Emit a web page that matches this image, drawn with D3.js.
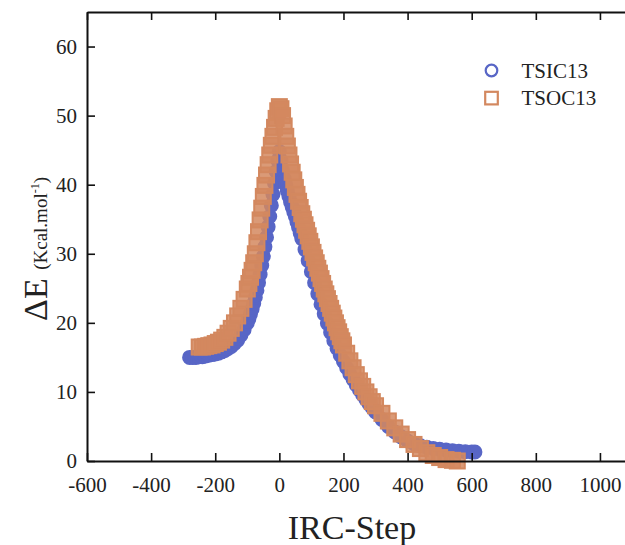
<!DOCTYPE html>
<html>
<head>
<meta charset="utf-8">
<script src="https://d3js.org/d3.v7.min.js"></script>
<style>
  body { margin: 0; background: #fff; }
  .axis path, .axis line { stroke: #111; }
  .axis text { fill: #222; font-family: "Liberation Serif", "Times New Roman", serif; font-size: 21px; }
</style>
</head>
<body>
<svg id="chart" width="625" height="545"></svg>
<script>
// TSIC13 (circles)
const tsicStep = [-280,-270,-260,-250,-240,-230,-220,-210,-200,-190,-180,-170,-160,-150,-140,-130,-120,-110,-100,-95,-90,-85,-80,-75,-70,-65,-60,-55,-50,-45,-40,-35,-30,-25,-20,-15,-10,-5,0,5,10,15,20,25,30,35,40,45,50,55,60,65,70,80,90,100,110,120,130,140,150,160,170,180,190,200,210,220,230,240,250,260,270,280,290,300,320,340,360,380,400,420,440,460,480,500,520,540,560,580,600,610];
const tsicE = [15.0,15.0,15.0,15.1,15.1,15.2,15.3,15.4,15.5,15.6,15.8,16.0,16.3,16.6,17.0,17.5,18.2,19.0,20.0,20.6,21.3,22.0,22.8,23.7,24.7,25.8,27.0,28.3,29.6,31.0,32.4,33.9,35.4,37.0,38.6,40.2,41.9,43.5,44.8,43.5,42.1,40.9,40.0,39.1,38.3,37.5,36.8,36.1,35.4,34.6,33.8,33.0,32.2,30.6,29.0,27.4,25.8,24.2,22.7,21.3,19.9,18.6,17.4,16.3,15.3,14.4,13.5,12.6,11.8,11.0,10.3,9.6,8.9,8.3,7.7,7.1,6.0,5.0,4.2,3.5,2.9,2.5,2.2,2.0,1.8,1.7,1.6,1.5,1.4,1.35,1.3,1.3];

// TSOC13 (squares)
const tsocStep = [-250,-240,-230,-220,-210,-200,-190,-180,-170,-160,-150,-140,-130,-120,-110,-100,-95,-90,-85,-80,-75,-70,-65,-60,-55,-50,-45,-40,-35,-30,-25,-20,-15,-10,-5,0,5,10,15,20,25,30,35,40,45,50,55,60,65,70,75,80,85,90,95,100,105,110,115,120,125,130,135,140,145,150,155,160,165,170,175,180,185,190,195,200,210,220,230,240,250,260,270,280,290,300,320,340,360,380,400,420,440,460,480,500,520,540,555];
const tsocE = [16.5,16.5,16.6,16.7,16.8,17.0,17.2,17.5,17.9,18.5,19.2,20.0,21.0,22.1,23.4,24.9,25.7,26.6,27.6,28.7,30.0,31.6,33.2,34.9,36.6,38.3,39.9,41.4,42.9,44.3,45.7,47.0,48.3,49.6,50.7,51.3,51.0,50.0,48.5,47.0,45.6,44.3,43.0,41.8,40.7,39.6,38.6,37.6,36.7,35.8,35.0,34.2,33.4,32.6,31.8,31.0,30.2,29.4,28.7,27.9,27.2,26.4,25.7,24.9,24.2,23.5,22.8,22.1,21.4,20.7,20.0,19.3,18.7,18.0,17.4,16.8,15.6,14.5,13.5,12.5,11.6,10.8,10.0,9.3,8.6,8.0,6.9,5.8,4.8,3.9,3.1,2.4,1.8,1.2,0.8,0.5,0.2,0.1,0.0];

const xTicks = [-600,-400,-200,0,200,400,600,800,1000];
const yTicks = [0,10,20,30,40,50,60];
const seriesNames = ["TSIC13", "TSOC13"];

const blue = "#5866c6", orange = "#d3885f";
const serif = "Liberation Serif, Times New Roman, serif";

const svg = d3.select("#chart");
const x = d3.scaleLinear().domain([-600, 1100]).range([87, 632]);
const y = d3.scaleLinear().domain([0, 65]).range([461, 12]);

const tsic = tsicStep.map((s, i) => ({ s: s, e: tsicE[i] }));
const tsoc = tsocStep.map((s, i) => ({ s: s, e: tsocE[i] }));

// circles (open markers packed so tightly they read as a band)
svg.append("g").selectAll("circle")
  .data(tsic).enter().append("circle")
  .attr("cx", d => x(d.s))
  .attr("cy", d => y(d.e))
  .attr("r", 6.5)
  .attr("fill", blue)
  .attr("stroke", blue)
  .attr("stroke-width", 2);

// squares
const sq = 15;
svg.append("g").selectAll("rect")
  .data(tsoc).enter().append("rect")
  .attr("x", d => x(d.s) - sq / 2)
  .attr("y", d => y(d.e) - sq / 2)
  .attr("width", sq)
  .attr("height", sq)
  .attr("fill", orange)
  .attr("fill-opacity", 0.85)
  .attr("stroke", orange)
  .attr("stroke-width", 2);

// axes (ticks inside)
const fmt = d => String(d);
function styleAxis(g) {
  g.attr("font-family", serif).attr("font-size", 21);
  g.select(".domain").attr("stroke-width", 2);
  g.selectAll(".tick line").attr("stroke-width", 1.6);
}
svg.append("g").attr("class", "axis")
  .attr("transform", "translate(0," + y(0) + ")")
  .call(d3.axisBottom(x).tickValues(xTicks).tickFormat(fmt).tickSizeInner(-8).tickSizeOuter(0).tickPadding(16))
  .call(styleAxis);
svg.append("g").attr("class", "axis")
  .attr("transform", "translate(0," + y(65) + ")")
  .call(d3.axisTop(x).tickValues(xTicks).tickFormat("").tickSizeInner(-8).tickSizeOuter(0))
  .call(styleAxis);
svg.append("g").attr("class", "axis")
  .attr("transform", "translate(" + x(-600) + ",0)")
  .call(d3.axisLeft(y).tickValues(yTicks).tickFormat(fmt).tickSizeInner(-8).tickSizeOuter(0).tickPadding(10))
  .call(styleAxis);

// axis titles
svg.append("text")
  .attr("x", 352).attr("y", 539)
  .attr("text-anchor", "middle")
  .style("font-family", serif)
  .style("font-size", "34px")
  .attr("fill", "#222")
  .text("IRC-Step");

const yl = svg.append("text")
  .attr("transform", "translate(47,249) rotate(-90)")
  .attr("text-anchor", "middle")
  .style("font-family", serif)
  .attr("fill", "#222");
yl.append("tspan").style("font-size", "34px").text("ΔE ");
yl.append("tspan").style("font-size", "19px").text("(Kcal.mol");
yl.append("tspan").style("font-size", "12px").attr("dy", -8).text("-1");
yl.append("tspan").style("font-size", "19px").attr("dy", 8).text(")");

// legend
const leg = svg.append("g").attr("transform", "translate(491.5,70.5)");
leg.append("circle").attr("cx", 0).attr("cy", 0).attr("r", 5.8)
  .attr("fill", "none").attr("stroke", blue).attr("stroke-width", 2.2);
leg.append("rect").attr("x", -6.3).attr("y", 21.3).attr("width", 12.6).attr("height", 12.6)
  .attr("fill", "none").attr("stroke", orange).attr("stroke-width", 2.2);
leg.selectAll("text").data(seriesNames).enter().append("text")
  .attr("x", 30).attr("y", (d, i) => 7 + i * 27.6)
  .style("font-family", serif)
  .style("font-size", "21px")
  .attr("fill", "#222")
  .text(d => d);
</script>
</body>
</html>
